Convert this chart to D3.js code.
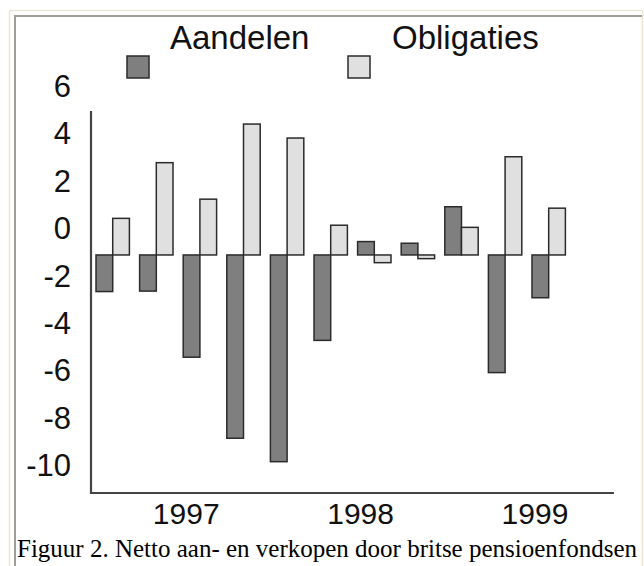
<!DOCTYPE html>
<html><head><meta charset="utf-8">
<script src="https://cdn.jsdelivr.net/npm/d3@7/dist/d3.min.js"></script>
<style>html,body{margin:0;padding:0;background:#fff;}svg{display:block;}</style>
</head><body>
<script>
const quarters = ["1997 K1","1997 K2","1997 K3","1997 K4","1998 K1","1998 K2","1998 K3","1998 K4","1999 K1","1999 K2","1999 K3","1999 K4"];
const years = ["1997","1998","1999"];
const aandelen = [-2.68,-2.66,-5.45,-8.87,-9.86,-4.74,-0.57,-0.64,0.90,-6.10,-2.94];
const obligaties = [0.41,2.76,1.22,4.39,3.80,0.12,-1.46,-1.29,0.03,3.01,0.84];
const yTicks = [6,4,2,0,-2,-4,-6,-8,-10];
const barBase = -1.135;
const seriesNames = ["Aandelen","Obligaties"];
const caption = "Figuur 2. Netto aan- en verkopen door britse pensioenfondsen";

const W=644,H=566;
const svg=d3.select("body").append("svg").attr("width",W).attr("height",H);

// frame
svg.append("rect").attr("x",9.5).attr("y",10.5).attr("width",633).attr("height",600)
  .attr("fill","none").attr("stroke","#ebe6d2").attr("stroke-width",1.5);
svg.append("path").attr("d","M15,600V16H642").attr("fill","none").attr("stroke","#a09e98").attr("stroke-width",2);

const x=d3.scaleBand().domain(quarters).range([91,614]).paddingInner(0.234).paddingOuter(0.115);
const y=d3.scaleLinear().domain([4,-10]).range([133.3,465]);
const xs=d3.scaleBand().domain([0,1]).range([0,x.bandwidth()]);

const colors=["#7f7f7f","#e0e0e0"];
const data=[aandelen,obligaties];
data.forEach((vals,si)=>{
  svg.append("g").selectAll("rect").data(vals).join("rect")
    .attr("x",(d,i)=>x(quarters[i])+xs(si))
    .attr("width",xs.bandwidth())
    .attr("y",d=>Math.min(y(d),y(barBase)))
    .attr("height",d=>Math.abs(y(d)-y(barBase)))
    .attr("fill",colors[si]).attr("stroke","#2b2b2b").attr("stroke-width",1.5);
});

// axes lines
svg.append("path").attr("d",`M91,111V${493}H614`).attr("fill","none").attr("stroke","#444").attr("stroke-width",2.2);

// y tick labels
svg.append("g").selectAll("text").data(yTicks).join("text")
  .attr("x",71).attr("y",d=>y(d)).attr("dy","0.36em").attr("text-anchor","end")
  .attr("font-family","Liberation Sans, Arial, sans-serif").attr("font-size",31).attr("fill","#111")
  .text(d=>d);

// year labels
svg.append("g").selectAll("text").data(years).join("text")
  .attr("x",d=>x(d+" K1")+2*x.step()+3).attr("y",524).attr("text-anchor","middle")
  .attr("font-family","Liberation Sans, Arial, sans-serif").attr("font-size",30).attr("fill","#111")
  .text(d=>d);

// legend
const lg=[{n:seriesNames[0],sx:127,tx:170},{n:seriesNames[1],sx:348,tx:392}];
lg.forEach((l,i)=>{
  svg.append("rect").attr("x",l.sx).attr("y",56).attr("width",22).attr("height",22)
    .attr("fill",colors[i]).attr("stroke","#2b2b2b").attr("stroke-width",1.5);
  svg.append("text").attr("x",l.tx).attr("y",49).attr("font-family","Liberation Sans, Arial, sans-serif")
    .attr("font-size",33).attr("fill","#111").text(l.n);
});

// caption
svg.append("text").attr("x",17).attr("y",557).attr("font-family","Liberation Serif, Times New Roman, serif")
  .attr("font-size",25).attr("fill","#000").text(caption);
</script>
</body></html>
